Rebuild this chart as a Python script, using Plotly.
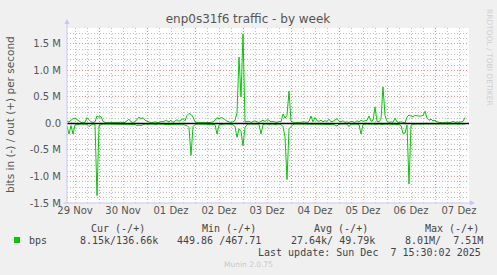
import numpy as np
import pandas as pd
import plotly.graph_objects as go

# ---------------- data (hourly samples, kbit/s) ----------------
START = "2025-11-29 08:00"
STEP = "1h"

out_kbps = [
    40, 30, 60, 90, 100, 70, 40, 20, 15, 20,
    110, 60, 30, 20, 30, 140, 120, 130, 40, 20,
    20, 15, 20, 10, 20, 15, 20, 25, 15, 20,
    50, 80, 30, 20, 30, 70, 120, 90, 110, 60,
    40, 20, 15, 20, 30, 20, 15, 40, 30, 50,
    50, 30, 60, 20, 50, 70, 40, 60, 90, 50,
    150, 190, 170, 120, 30, 20, 15, 20, 20, 15,
    20, 15, 20, 30, 60, 110, 90, 110, 100, 60,
    40, 30, 20, 30, 60, 200, 1250, 500, 1690, 30,
    30, 40, 20, 30, 50, 30, 20, 40, 60, 40,
    70, 60, 30, 40, 30, 20, 40, 30, 180, 100,
    150, 610, 40, 20, 10, 20, 15, 20, 30, 20,
    20, 40, 140, 30, 110, 50, 40, 60, 30, 50,
    40, 80, 30, 40, 60, 90, 40, 30, 50, 20,
    30, 20, 40, 30, 20, 50, 30, 60, 40, 50,
    60, 140, 40, 60, 310, 40, 30, 80, 690, 150,
    40, 20, 30, 20, 100, 30, 20, 30, 20, 10,
    120, 160, 140, 130, 150, 140, 140, 140, 150, 230,
    100, 60, 80, 50, 60, 30, 20, 20, 10, 20,
    20, 10, 20, 40, 20, 30, 20, 30, 40, 110,
]

in_kbps = [
    50, 200, 40, 200, 30, 20, 15, 10, 15, 10,
    20, 60, 30, 10, 15, 1360, 40, 20, 10, 10,
    10, 10, 15, 10, 10, 10, 15, 10, 10, 10,
    10, 15, 10, 10, 20, 40, 30, 40, 20, 10,
    15, 10, 10, 10, 20, 10, 10, 15, 10, 20,
    20, 15, 10, 20, 10, 15, 10, 20, 15, 30,
    40, 80, 600, 60, 20, 10, 10, 15, 10, 10,
    10, 10, 15, 10, 20, 200, 30, 20, 10, 10,
    10, 15, 10, 20, 60, 260, 100, 150, 420, 80,
    20, 10, 10, 15, 10, 10, 20, 200, 20, 10,
    10, 15, 10, 10, 20, 10, 10, 20, 60, 250,
    1060, 100, 60, 20, 10, 10, 15, 10, 10, 10,
    10, 15, 10, 20, 10, 10, 15, 10, 10, 10,
    15, 10, 10, 20, 30, 50, 10, 10, 15, 10,
    10, 60, 10, 15, 10, 10, 20, 200, 20, 10,
    10, 15, 10, 10, 20, 10, 10, 15, 20, 10,
    10, 10, 15, 10, 10, 10, 20, 40, 190, 180,
    30, 1140, 40, 20, 10, 10, 15, 10, 10, 10,
    10, 10, 15, 10, 10, 10, 10, 15, 10, 10,
    10, 10, 15, 10, 10, 10, 10, 15, 10, 10,
]

day_labels = ["29 Nov", "30 Nov", "01 Dez", "02 Dez", "03 Dez",
              "04 Dez", "05 Dez", "06 Dez", "07 Dez"]
label_first_noon = "2025-11-29 12:00"
first_midnight = "2025-11-30 00:00"
x_range = ["2025-11-29 08:00", "2025-12-07 17:00"]

y_tick_vals = [-1.5e6, -1.0e6, -0.5e6, 0.0, 0.5e6, 1.0e6, 1.5e6]
y_tick_text = ["-1.5 M", "-1.0 M", "-0.5 M", "0.0", "0.5 M", "1.0 M", "1.5 M"]
y_range = [-1.5e6, 1.8e6]

legend_head = ["Cur (-/+)", "Min (-/+)", "Avg (-/+)", "Max (-/+)"]
legend_vals = ["8.15k/136.66k", "449.86 /467.71", "27.64k/ 49.79k", "8.01M/  7.51M"]
last_update = "Last update: Sun Dec  7 15:30:02 2025"

# ---------------- figure ----------------
W, H = 497, 275
ML, MR, MT, MB = 67, 28, 28, 72
PW, PH = W - ML - MR, H - MT - MB


def px(x):
    return (x - ML) / PW


def py(y):
    return (H - MB - y) / PH


times = pd.date_range(START, periods=len(out_kbps), freq=STEP)
label_pos = pd.date_range(label_first_noon, periods=len(day_labels), freq="D")
GREEN = "#00CC00"
TXT = "#555555"
DOT = "1px,2px"
MAJ = "#dc9696"
MIN = "#c2c2c2"

fig = go.Figure()
fig.add_trace(go.Scatter(x=times, y=np.array(out_kbps) * 1000.0, mode="lines",
                         line=dict(color=GREEN, width=1), name="bps out",
                         hoverinfo="skip"))
fig.add_trace(go.Scatter(x=times, y=-np.array(in_kbps) * 1000.0, mode="lines",
                         line=dict(color=GREEN, width=1), name="bps in",
                         hoverinfo="skip"))
# zero rule, on the label axis
fig.add_trace(go.Scatter(x=x_range, y=[0, 0], mode="lines", xaxis="x2",
                         line=dict(color="black", width=1.6), hoverinfo="skip"))

fig.update_layout(
    width=W, height=H,
    margin=dict(l=ML, r=MR, t=MT, b=MB, pad=0),
    paper_bgcolor="#f0f0f0", plot_bgcolor="#ffffff",
    showlegend=False,
    font=dict(family="DejaVu Sans", size=10, color=TXT),
    title=dict(text="enp0s31f6 traffic - by week", x=248 / W, xanchor="center",
               y=1 - 19 / H, yanchor="middle",
               font=dict(family="DejaVu Sans", size=12, color=TXT)),
    xaxis=dict(type="date", range=x_range, tick0=first_midnight, dtick=86400000,
               showticklabels=False, ticks="", showgrid=True, gridcolor=MAJ,
               griddash=DOT, gridwidth=1, zeroline=False, showline=False,
               minor=dict(tick0=first_midnight, dtick=6 * 3600 * 1000, showgrid=True,
                          gridcolor=MIN, griddash=DOT, gridwidth=1)),
    xaxis2=dict(type="date", range=x_range, overlaying="x", anchor="y", side="bottom",
                tickmode="array", tickvals=label_pos, ticktext=day_labels,
                showgrid=False, zeroline=False, showline=False, ticks="",
                tickfont=dict(size=10, color=TXT)),
    yaxis=dict(range=y_range, tickmode="array", tickvals=y_tick_vals, ticktext=y_tick_text,
               showgrid=True, gridcolor=MAJ, griddash=DOT, gridwidth=1,
               zeroline=False, showline=False, ticks="", ticklabelstandoff=5,
               tickfont=dict(size=10, color=TXT),
               minor=dict(tickmode="linear", tick0=0, dtick=1e5, showgrid=True,
                          gridcolor=MIN, griddash=DOT, gridwidth=1)),
)

ann = []
# y-axis title
ann.append(dict(text="bits in (-) / out (+) per second", x=px(10), y=py(115),
                xref="paper", yref="paper", showarrow=False, textangle=-90,
                xanchor="center", yanchor="middle",
                font=dict(family="DejaVu Sans", size=10.5, color=TXT)))
# watermark
ann.append(dict(text="RRDTOOL / TOBI OETIKER", x=px(490), y=py(57),
                xref="paper", yref="paper", showarrow=False, textangle=90,
                xanchor="center", yanchor="middle",
                font=dict(family="DejaVu Sans", size=7.5, color="#cfcfcf")))
# axis arrows
ax_col = "#c6c6f2"
ann.append(dict(text="", x=px(67), y=py(19), xref="paper", yref="paper",
                showarrow=True, ax=0, ay=186, axref="pixel", ayref="pixel",
                arrowhead=2, arrowsize=1, arrowwidth=1, arrowcolor=ax_col))
ann.append(dict(text="", x=px(475), y=py(203), xref="paper", yref="paper",
                showarrow=True, ax=-413, ay=0, axref="pixel", ayref="pixel",
                arrowhead=2, arrowsize=1, arrowwidth=1, arrowcolor=ax_col))

MONO = dict(family="DejaVu Sans Mono", size=10, color="#444444")
head_x = [89, 200, 312, 423]
val_x = [78, 175, 289, 403]
for t, x in zip(legend_head, head_x):
    ann.append(dict(text=t, x=px(x), y=py(228), xref="paper", yref="paper",
                    showarrow=False, xanchor="left", yanchor="middle", font=MONO))
ann.append(dict(text="bps", x=px(27), y=py(240), xref="paper", yref="paper",
                showarrow=False, xanchor="left", yanchor="middle", font=MONO))
for t, x in zip(legend_vals, val_x):
    ann.append(dict(text=t.replace(" ", "&nbsp;"), x=px(x), y=py(240), xref="paper",
                    yref="paper", showarrow=False, xanchor="left", yanchor="middle",
                    font=MONO))
ann.append(dict(text=last_update.replace(" ", "&nbsp;"), x=px(483), y=py(252),
                xref="paper", yref="paper", showarrow=False, xanchor="right",
                yanchor="middle", font=MONO))
ann.append(dict(text="Munin 2.0.75", x=px(248), y=py(264), xref="paper", yref="paper",
                showarrow=False, xanchor="center", yanchor="middle",
                font=dict(family="DejaVu Sans", size=7.5, color="#c8c8c8")))
fig.update_layout(annotations=ann)

fig.add_shape(type="rect", xref="paper", yref="paper",
              x0=px(14), x1=px(20), y0=py(243), y1=py(237),
              fillcolor=GREEN, line=dict(width=0))

fig.write_html("out.html")
